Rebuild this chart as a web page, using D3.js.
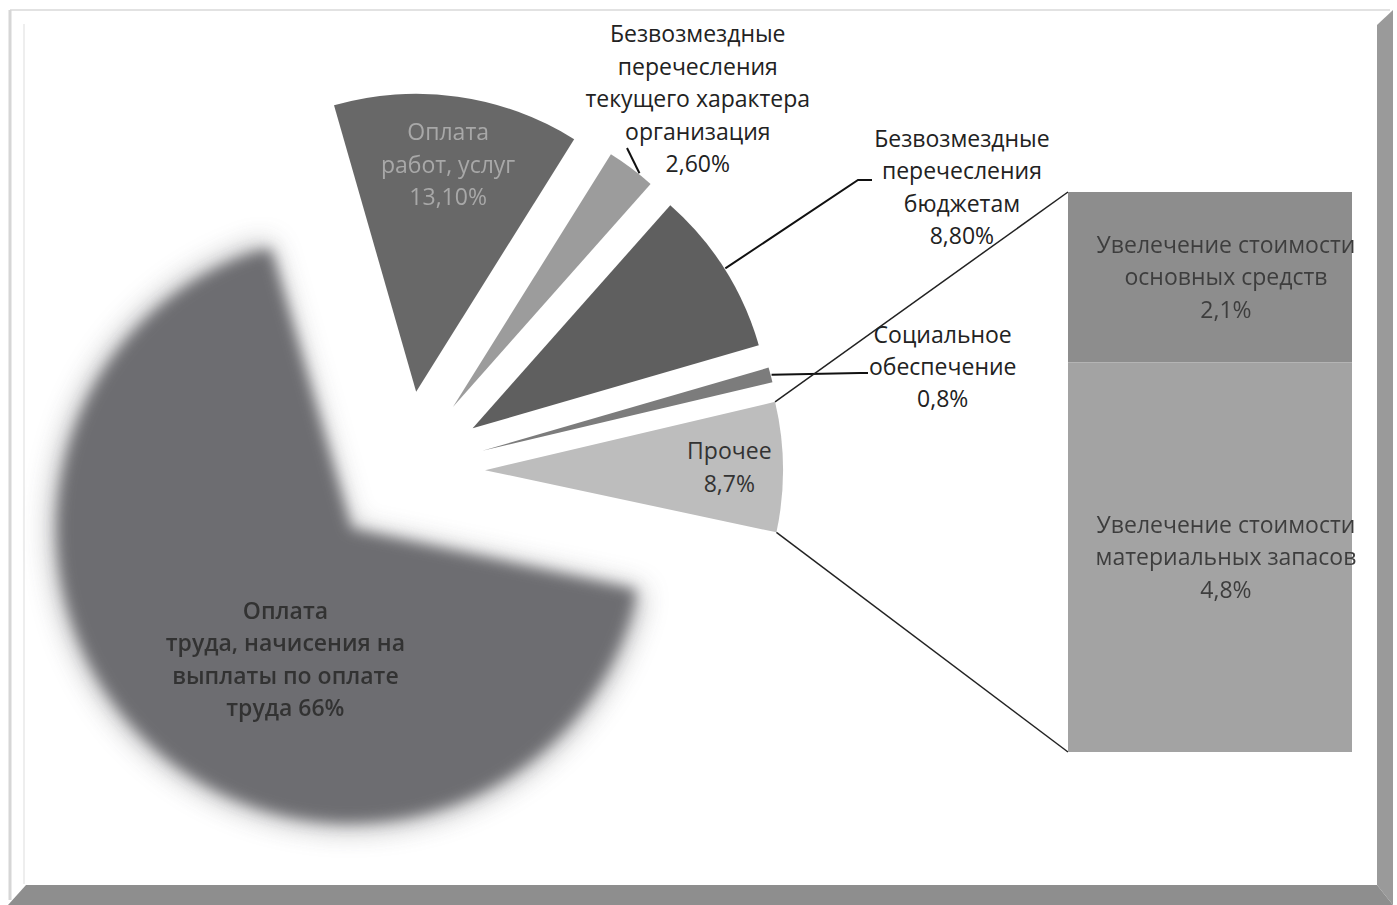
<!DOCTYPE html>
<html>
<head>
<meta charset="utf-8">
<script src="https://cdn.jsdelivr.net/npm/d3@7"></script>
<style>
  body { margin: 0; background: #fff; }
  svg { display: block; font-family: 'Open Sans', sans-serif; }
</style>
</head>
<body>
<svg id="chart"></svg>
<script>
// slices of the pie, clockwise from the top (the "Прочее" slice is the sum of the bar)
const pieNames = ['Оплата работ, услуг', 'Безвозмездные перечесления текущего характера организация',
    'Безвозмездные перечесления бюджетам', 'Социальное обеспечение',
    'Оплата труда, начисения на выплаты по оплате труда'];
const pieValues = [13.1, 2.6, 8.8, 0.8, 66];
const otherName = 'Прочее';
const otherIndex = 4;

// the bar that breaks "Прочее" down, top to bottom
const barNames = ['Увелечение стоимости основных средств', 'Увелечение стоимости материальных запасов'];
const barValues = [2.1, 4.8];

// label texts, line by line
const pieLabelLines = [
    ['Оплата', 'работ, услуг', '13,10%'],
    ['Безвозмездные', 'перечесления', 'текущего характера', 'организация', '2,60%'],
    ['Безвозмездные', 'перечесления', 'бюджетам', '8,80%'],
    ['Социальное', 'обеспечение', '0,8%'],
    ['Прочее', '8,7%'],
    ['Оплата', 'труда, начисения на', 'выплаты по оплате', 'труда 66%']
];
const barLabelLines = [
    ['Увелечение стоимости', 'основных средств', '2,1%'],
    ['Увелечение стоимости', 'материальных запасов', '4,8%']
];

let w = 1397, h = 905;
let cx = 405, cy = 471, R = 298;
let rad = Math.PI / 180;
let startAngle = -16 * rad;

let fills = ['#686868', '#9c9c9c', '#5f5f5f', '#7c7c7c', '#bdbdbd', '#6d6d71'];
let textFills = ['#a8a8a8', '#222', '#222', '#222', '#333', '#333'];
let textWeights = [400, 400, 400, 400, 400, 600];
let explode = [80, 80, 80, 80, 80, 80];
// label placement: angle (deg, null = bisector) and distance from the slice tip (x R)
let labelPolar = [
    [null, 0.77], [38.5, 1.32], [63.8, 1.83], [79.7, 1.57], [null, 0.82], [206.6, 0.487]
];
// leader lines end near their labels
let leaderEnds = { 1: [[627, 148]], 2: [[858, 180], [872, 180]], 3: [[860, 373], [868, 373]] };
let leaderAngle = { 1: 38.6 };

let fontSize = 23, lineH = 32.4;

let slices = pieNames.map((n, i) => ({ name: n, value: pieValues[i] }));
slices.splice(otherIndex, 0, { name: otherName, value: d3.sum(barValues) });
slices.forEach((d, i) => d.lines = pieLabelLines[i]);

let pie = d3.pie()
    .sort(null)
    .value(d => d.value)
    .startAngle(startAngle)
    .endAngle(startAngle + 2 * Math.PI);

let arcs = pie(slices);
let arc = d3.arc().innerRadius(0).outerRadius(R);

let polar = (a, r) => [Math.sin(a) * r, -Math.cos(a) * r];

arcs.forEach((d, i) => {
    let mid = (d.startAngle + d.endAngle) / 2;
    let [ox, oy] = polar(mid, explode[i]);
    d.x = cx + ox;
    d.y = cy + oy;
    d.mid = mid;
});

let svg = d3.select('#chart')
    .attr('width', w)
    .attr('height', h);

let defs = svg.append('defs');
defs.append('filter')
    .attr('id', 'glow')
    .attr('x', '-30%').attr('y', '-30%')
    .attr('width', '160%').attr('height', '160%')
    .append('feGaussianBlur')
    .attr('stdDeviation', 14);
defs.append('filter')
    .attr('id', 'soft')
    .attr('x', '-20%').attr('y', '-20%')
    .attr('width', '140%').attr('height', '140%')
    .append('feGaussianBlur')
    .attr('stdDeviation', 7);
defs.append('filter')
    .attr('id', 'fuzz')
    .append('feGaussianBlur')
    .attr('stdDeviation', 0.5);

// frame of the scanned picture
svg.append('line')
    .attr('x1', 10).attr('y1', 10).attr('x2', 1390).attr('y2', 10)
    .attr('stroke', '#e2e2e2').attr('stroke-width', 2);
svg.append('line')
    .attr('x1', 10).attr('y1', 10).attr('x2', 10).attr('y2', 900)
    .attr('stroke', '#d6d6d6').attr('stroke-width', 3);
svg.append('line')
    .attr('x1', 24).attr('y1', 24).attr('x2', 24).attr('y2', 884)
    .attr('stroke', '#eeeeee').attr('stroke-width', 2);
svg.append('polygon')
    .attr('points', '1377,25 1393,10 1393,905 1377,885')
    .attr('fill', '#9a9a9a');
svg.append('polygon')
    .attr('points', '8,905 1393,905 1377,885 26,885')
    .attr('fill', '#8e8e8e');

// pie slices
let g = svg.append('g');
let bigIndex = arcs.length - 1;
let big = arcs[bigIndex];

g.append('path')
    .attr('d', arc(big))
    .attr('transform', `translate(${big.x}, ${big.y})`)
    .attr('fill', fills[bigIndex])
    .attr('opacity', 0.6)
    .attr('filter', 'url(#glow)');
g.append('path')
    .attr('d', d3.arc().innerRadius(0).outerRadius(R - 6)(big))
    .attr('transform', `translate(${big.x}, ${big.y})`)
    .attr('fill', fills[bigIndex])
    .attr('filter', 'url(#soft)');

g.selectAll('path.slice')
    .data(arcs.slice(0, bigIndex))
    .enter()
    .append('path')
    .attr('class', 'slice')
    .attr('d', arc)
    .attr('transform', d => `translate(${d.x}, ${d.y})`)
    .attr('fill', (d, i) => fills[i]);

// leader lines
Object.keys(leaderEnds).forEach(k => {
    let d = arcs[k];
    let a = leaderAngle[k] != null ? leaderAngle[k] * rad : d.mid;
    let [sx, sy] = polar(a, R + 1);
    let pts = [[d.x + sx, d.y + sy]].concat(leaderEnds[k]);
    svg.append('path')
        .attr('d', d3.line()(pts))
        .attr('fill', 'none')
        .attr('stroke', '#111')
        .attr('stroke-width', 2);
});

// connector lines from "Прочее" to the bar
let y = d3.scaleLinear()
    .domain([0, d3.sum(barValues)])
    .range([752, 192]);
let barX = 1068, barW = 284;

let other = arcs[otherIndex];
let [tx, ty] = polar(other.startAngle, R);
let [bx, by] = polar(other.endAngle, R);
svg.append('line')
    .attr('x1', other.x + tx).attr('y1', other.y + ty)
    .attr('x2', barX).attr('y2', y(d3.sum(barValues)))
    .attr('stroke', '#222').attr('stroke-width', 1.5);
svg.append('line')
    .attr('x1', other.x + bx).attr('y1', other.y + by)
    .attr('x2', barX).attr('y2', y(0))
    .attr('stroke', '#222').attr('stroke-width', 1.5);

// stacked bar
let barFills = ['#8d8d8d', '#a3a3a3'];
let stacked = [];
let acc = 0;
for (let i = barValues.length - 1; i >= 0; i--) {
    stacked[i] = { name: barNames[i], y0: acc, y1: acc + barValues[i], lines: barLabelLines[i] };
    acc += barValues[i];
}

svg.selectAll('rect.bar')
    .data(stacked)
    .enter()
    .append('rect')
    .attr('class', 'bar')
    .attr('x', barX)
    .attr('width', barW)
    .attr('y', d => y(d.y1))
    .attr('height', d => y(d.y0) - y(d.y1))
    .attr('fill', (d, i) => barFills[i]);

function block(x, yc, lines, color, weight, blur) {
    let t = svg.append('text')
        .attr('text-anchor', 'middle')
        .attr('font-size', fontSize)
        .attr('font-weight', weight || 400)
        .attr('fill', color);
    if (blur) t.attr('filter', 'url(#fuzz)');
    let top = yc - (lines.length - 1) * lineH / 2;
    lines.forEach((s, j) => {
        t.append('tspan')
            .attr('x', x)
            .attr('y', top + j * lineH)
            .attr('dy', '0.35em')
            .text(s);
    });
}

stacked.forEach(d => {
    block(barX + barW / 2 + 16, (y(d.y0) + y(d.y1)) / 2, d.lines, '#3e3e3e', 400, true);
});

// pie labels
arcs.forEach((d, i) => {
    let [a, f] = labelPolar[i];
    let ang = a == null ? d.mid : a * rad;
    let [lx, ly] = polar(ang, f * R);
    block(d.x + lx, d.y + ly, d.data.lines, textFills[i], textWeights[i], i === 0 || i === bigIndex);
});
</script>
</body>
</html>
